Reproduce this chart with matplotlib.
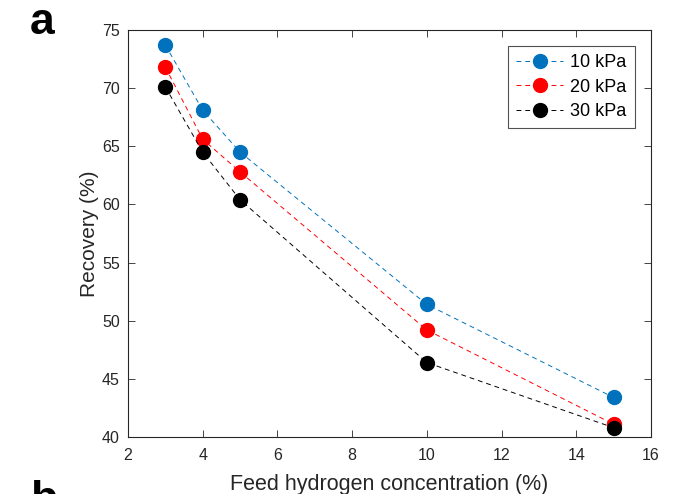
import matplotlib.pyplot as plt

plt.rcParams['font.family'] = ['Liberation Sans', 'DejaVu Sans']

feed_conc = [3, 4, 5, 10, 15]
rec_10kpa = [73.7, 68.1, 64.5, 51.4, 43.4]
rec_20kpa = [71.8, 65.6, 62.8, 49.2, 41.1]
rec_30kpa = [70.1, 64.5, 60.4, 46.4, 40.8]
labels = ['10 kPa', '20 kPa', '30 kPa']
colors = ['#0072BD', '#FF0000', '#000000']

fig = plt.figure(figsize=(6.82, 4.94), dpi=100)
ax = fig.add_axes([128 / 682, 1 - 437 / 494, (651 - 128) / 682, (437 - 30) / 494])

for vals, lab, col in zip([rec_10kpa, rec_20kpa, rec_30kpa], labels, colors):
    ax.plot(feed_conc, vals, linestyle=(0, (5, 4)), linewidth=0.7, color=col,
            marker='o', markersize=10, markerfacecolor=col, markeredgecolor=col,
            label=lab)

ax.set_xlim(2, 16)
ax.set_ylim(40, 75)
ax.set_xticks(range(2, 17, 2))
ax.set_yticks(range(40, 76, 5))
ax.tick_params(direction='in', top=True, right=True, labelsize=11.5,
               length=5, width=0.6, colors='#262626', labelcolor='#262626')
ax.tick_params(axis='x', pad=8)
ax.tick_params(axis='y', pad=6)
for s in ax.spines.values():
    s.set_linewidth(0.8)
    s.set_color('#262626')

ax.set_xlabel('Feed hydrogen concentration (%)', fontsize=15.5, color='#262626', labelpad=8)
ax.set_ylabel('Recovery (%)', fontsize=15, color='#262626', labelpad=2)

leg = ax.legend(loc='upper right', fontsize=13, frameon=True, fancybox=False,
                edgecolor='#262626', borderaxespad=0.9, handlelength=2.6,
                labelspacing=0.4, borderpad=0.45, handletextpad=0.4)
leg.get_frame().set_linewidth(0.8)

fig.text(30 / 682, 1 - 22 / 494, 'a', fontsize=32, fontweight='bold', va='center')
fig.text(30 / 682, 1 - 500 / 494, 'b', fontsize=32, fontweight='bold', va='center')

fig.savefig('out.png', dpi=100)
